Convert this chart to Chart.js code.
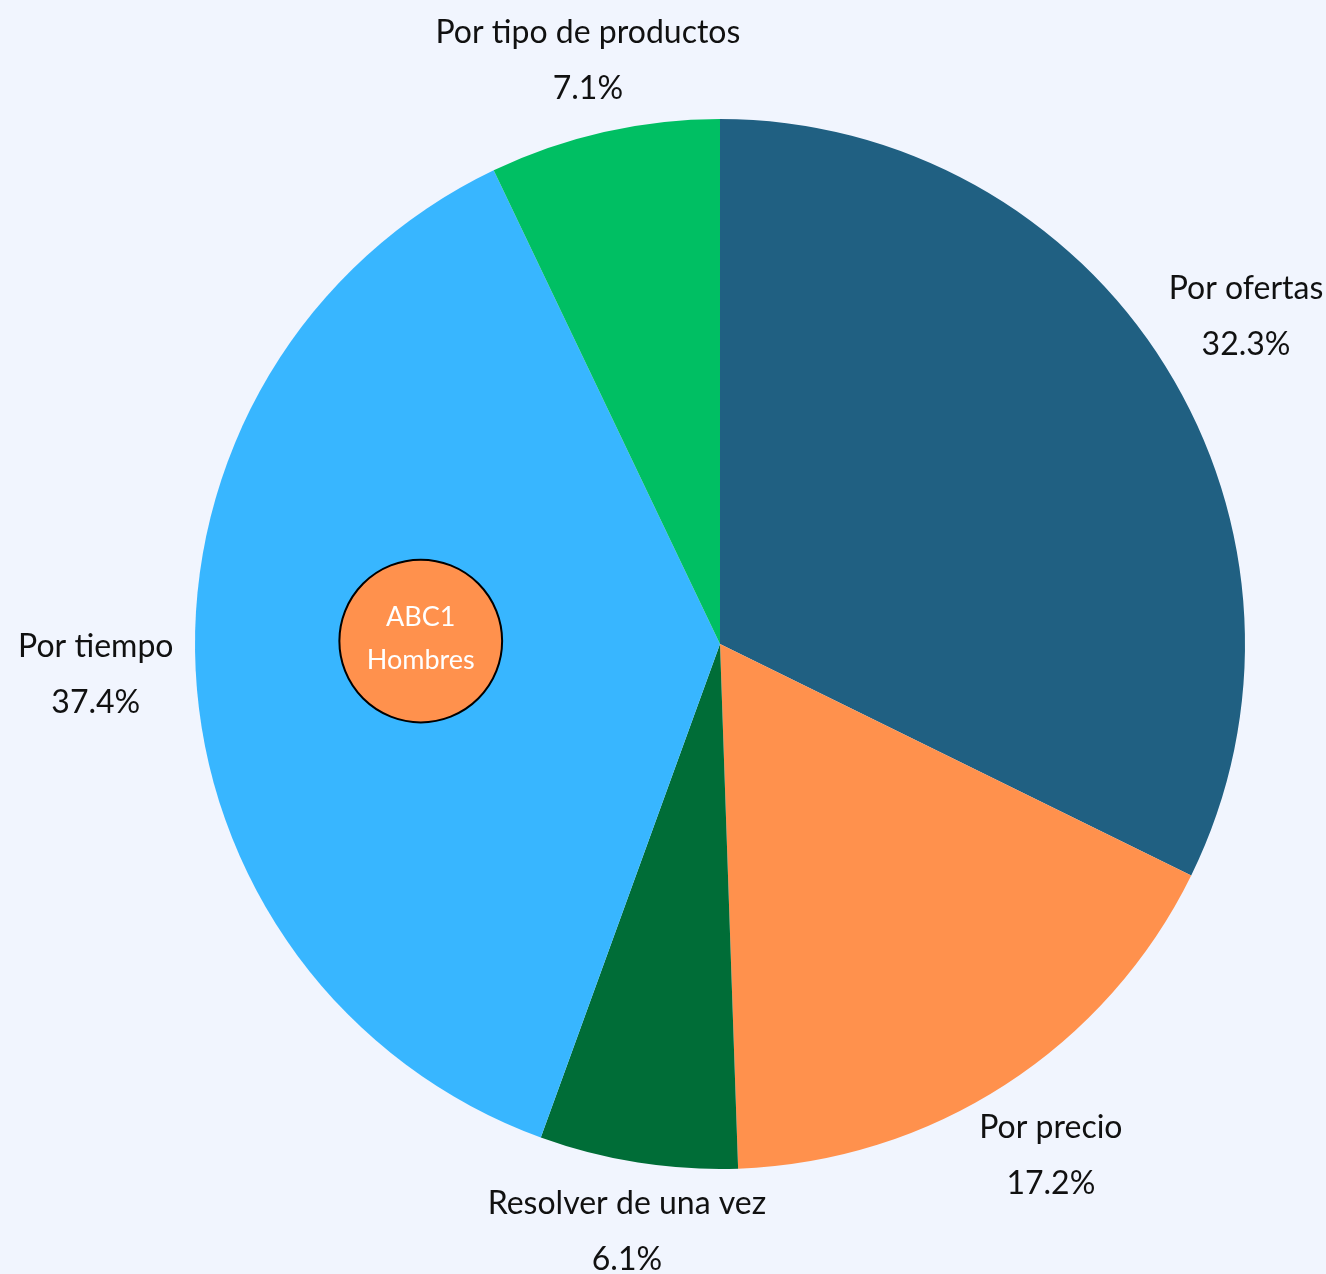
<!DOCTYPE html>
<html lang="es">
<head>
    <meta charset="UTF-8">
    <title>ABC1 Hombres</title>
    <script src="https://cdn.jsdelivr.net/npm/chart.js"></script>
    <style>
    html, body {
        margin: 0;
        padding: 0;
        background: #f1f5fe;
    }
    #wrap {
        width: 1326px;
        height: 1274px;
    }
    </style>
</head>
<body>
    <div id="wrap">
    <canvas id="pieChart"></canvas>
    </div>

    <script>
    const labels = ["Por ofertas", "Por precio", "Resolver de una vez", "Por tiempo", "Por tipo de productos"];
    const values = [32.3, 17.2, 6.1, 37.4, 7.1];
    const colors = ['#206082', '#ff914d', '#006d37', '#38b6ff', '#00bf63'];
    const centerText = ["ABC1", "Hombres"];

    const FONT = "Lato, 'Open Sans', sans-serif";

    // labels outside each slice: name and percentage
    const outsideLabels = {
        id: 'outsideLabels',
        afterDraw(chart) {
        const ctx = chart.ctx;
        const arcs = chart.getDatasetMeta(0).data;
        ctx.save();
        ctx.fillStyle = '#111111';
        ctx.textAlign = 'center';
        ctx.textBaseline = 'middle';
        ctx.font = '32px ' + FONT;
        arcs.forEach((arc, i) => {
            const mid = (arc.startAngle + arc.endAngle) / 2;
            const c = Math.cos(mid), s = Math.sin(mid);
            const dist = arc.outerRadius + 65 + Math.abs(c) * 35;
            const x = arc.x + c * dist;
            const y = arc.y + s * dist;
            ctx.fillText(labels[i], x, y - 28);
            ctx.fillText(values[i].toFixed(1) + '%', x, y + 28);
        });
        ctx.restore();
        }
    };

    // small badge inside the big slice
    const badge = {
        id: 'badge',
        afterDraw(chart) {
        const ctx = chart.ctx;
        const arc = chart.getDatasetMeta(0).data[0];
        const r = arc.outerRadius;
        const bx = arc.x - r * 0.57;
        const by = arc.y - 3;
        ctx.save();
        ctx.beginPath();
        ctx.arc(bx, by, r * 0.155, 0, Math.PI * 2);
        ctx.fillStyle = '#ff914d';
        ctx.fill();
        ctx.lineWidth = 2;
        ctx.strokeStyle = '#000000';
        ctx.stroke();
        ctx.fillStyle = '#ffffff';
        ctx.textAlign = 'center';
        ctx.textBaseline = 'middle';
        ctx.font = '27px ' + FONT;
        ctx.fillText(centerText[0], bx, by - 24);
        ctx.fillText(centerText[1], bx, by + 19);
        ctx.restore();
        }
    };

    new Chart(document.getElementById('pieChart'), {
        type: 'pie',
        data: {
        labels: labels,
        datasets: [{
            data: values,
            backgroundColor: colors,
            borderWidth: 0
        }]
        },
        options: {
        responsive: true,
        maintainAspectRatio: false,
        animation: false,
        layout: {
            padding: { left: 195, right: 81, top: 119, bottom: 105 }
        },
        plugins: {
            legend: { display: false },
            tooltip: { enabled: false }
        }
        },
        plugins: [outsideLabels, badge]
    });
    </script>
</body>
</html>
